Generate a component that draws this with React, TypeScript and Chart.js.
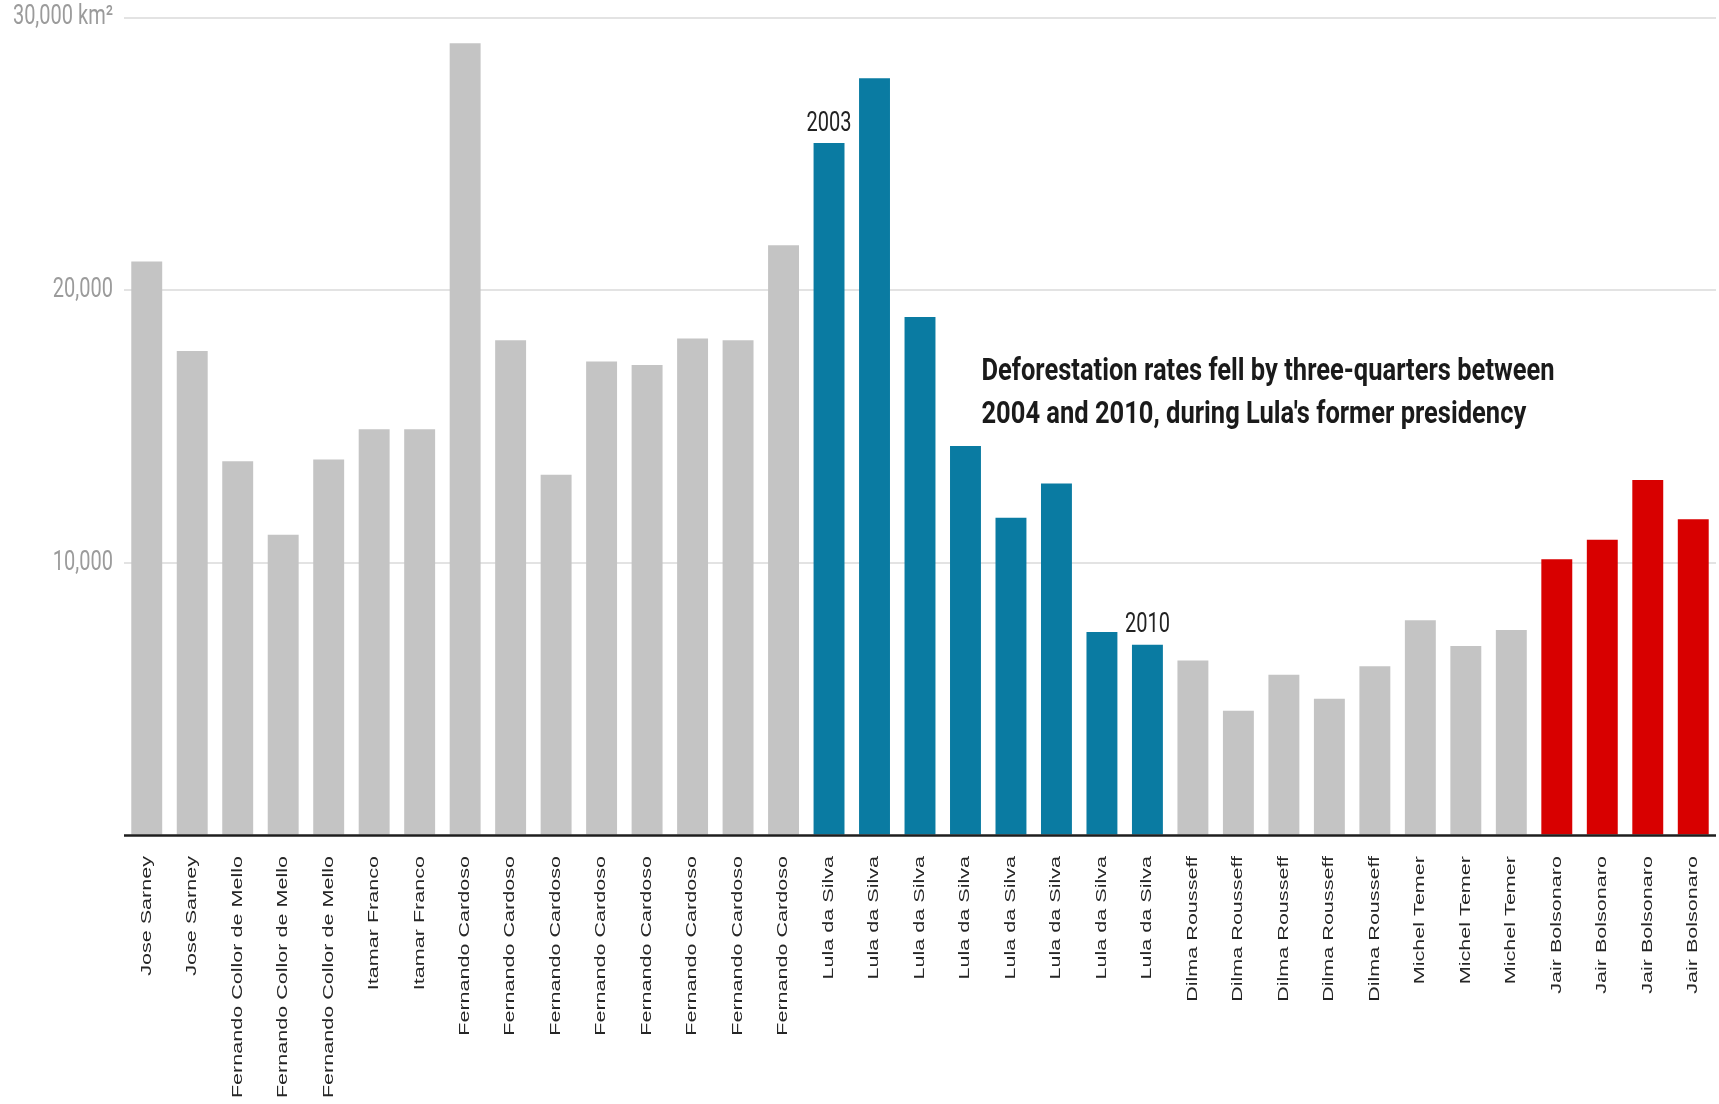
import React, { useEffect, useRef } from "react";
import { Chart, registerables } from "chart.js";

Chart.register(...registerables);

// ---------- data ----------
const presidents: string[] = [
  "Jose Sarney", "Jose Sarney",
  "Fernando Collor de Mello", "Fernando Collor de Mello", "Fernando Collor de Mello",
  "Itamar Franco", "Itamar Franco",
  "Fernando Cardoso", "Fernando Cardoso", "Fernando Cardoso", "Fernando Cardoso",
  "Fernando Cardoso", "Fernando Cardoso", "Fernando Cardoso", "Fernando Cardoso",
  "Lula da Silva", "Lula da Silva", "Lula da Silva", "Lula da Silva",
  "Lula da Silva", "Lula da Silva", "Lula da Silva", "Lula da Silva",
  "Dilma Rousseff", "Dilma Rousseff", "Dilma Rousseff", "Dilma Rousseff", "Dilma Rousseff",
  "Michel Temer", "Michel Temer", "Michel Temer",
  "Jair Bolsonaro", "Jair Bolsonaro", "Jair Bolsonaro", "Jair Bolsonaro",
];

const years: number[] = [
  1988, 1989, 1990, 1991, 1992, 1993, 1994, 1995, 1996, 1997, 1998, 1999,
  2000, 2001, 2002, 2003, 2004, 2005, 2006, 2007, 2008, 2009, 2010, 2011,
  2012, 2013, 2014, 2015, 2016, 2017, 2018, 2019, 2020, 2021, 2022,
];

const deforestationKm2: number[] = [
  21050, 17770, 13730, 11030, 13786, 14896, 14896, 29059, 18161, 13227, 17383, 17259,
  18226, 18165, 21651, 25396, 27772, 19014, 14286, 11651, 12911, 7464, 7000, 6418,
  4571, 5891, 5012, 6207, 7893, 6947, 7536, 10129, 10851, 13038, 11594,
];

const yTicks: number[] = [0, 10000, 20000, 30000];
const yTickLabels: string[] = ["", "10,000", "20,000", "30,000 km²"];

const highlightColors: Record<string, string> = {
  "Lula da Silva": "#0a7ba2",
  "Jair Bolsonaro": "#d80000",
};
const baseColor = "#c4c4c4";

const yearMarks: number[] = [2003, 2010];

const noteLines: string[] = [
  "Deforestation rates fell by three-quarters between",
  "2004 and 2010, during Lula's former presidency",
];
const noteAnchorIndex = 18;
const noteAnchorValue = 16700;

// ---------- plugin for overlay text & axis ----------
const overlayPlugin = {
  id: "overlay",
  afterDatasetsDraw(chart: any) {
    const { ctx, chartArea, scales } = chart;
    const xs = scales.x;
    const ys = scales.y;
    const y0 = ys.getPixelForValue(0);
    ctx.save();

    // baseline axis
    ctx.strokeStyle = "#1e1e1e";
    ctx.lineWidth = 2.5;
    ctx.beginPath();
    ctx.moveTo(chartArea.left, y0);
    ctx.lineTo(chartArea.right, y0);
    ctx.stroke();

    // value-axis labels
    ctx.fillStyle = "#9b9b9b";
    ctx.font = "20px Roboto, sans-serif";
    ctx.textAlign = "right";
    ctx.textBaseline = "middle";
    yTicks.forEach((v, k) => {
      const txt = yTickLabels[k];
      if (!txt) return;
      ctx.save();
      ctx.translate(chartArea.left - 11, ys.getPixelForValue(v));
      ctx.scale(1, 1.35);
      ctx.fillText(txt, 0, 0);
      ctx.restore();
    });

    // category labels (rotated, condensed)
    ctx.fillStyle = "#262626";
    ctx.font = "14px 'Liberation Sans', Arial, sans-serif";
    ctx.textAlign = "right";
    ctx.textBaseline = "middle";
    presidents.forEach((name, i) => {
      const px = xs.getPixelForValue(i);
      ctx.save();
      ctx.translate(px, y0 + 20.5);
      ctx.rotate(-Math.PI / 2);
      ctx.scale(1.54, 1);
      ctx.fillText(name, 0, 0);
      ctx.restore();
    });

    // year labels above bars
    ctx.fillStyle = "#222222";
    ctx.font = "20px Roboto, sans-serif";
    ctx.textAlign = "center";
    ctx.textBaseline = "alphabetic";
    yearMarks.forEach((yr) => {
      const i = years.indexOf(yr);
      if (i < 0) return;
      const px = xs.getPixelForValue(i);
      const py = ys.getPixelForValue(deforestationKm2[i]) - 12.5;
      ctx.save();
      ctx.translate(px, py);
      ctx.scale(1, 1.4);
      ctx.fillText(String(yr), 0, 0);
      ctx.restore();
    });

    // note
    ctx.fillStyle = "#1a1a1a";
    ctx.font = "bold 25.5px Roboto, sans-serif";
    ctx.textAlign = "left";
    const nx = xs.getPixelForValue(noteAnchorIndex) + 16;
    const ny = ys.getPixelForValue(noteAnchorValue);
    noteLines.forEach((line, k) => {
      ctx.save();
      ctx.translate(nx, ny + k * 43);
      ctx.scale(1, 1.25);
      ctx.fillText(line, 0, 0);
      ctx.restore();
    });

    ctx.restore();
  },
};

export default function App() {
  const canvasRef = useRef<HTMLCanvasElement | null>(null);

  useEffect(() => {
    document.body.style.margin = "0";
    const canvas = canvasRef.current;
    if (!canvas) return;
    const chart = new Chart(canvas, {
      type: "bar",
      data: {
        labels: presidents,
        datasets: [
          {
            data: deforestationKm2,
            backgroundColor: presidents.map((p) => highlightColors[p] || baseColor),
            borderWidth: 0,
            barPercentage: 0.68,
            categoryPercentage: 1,
          },
        ],
      },
      options: {
        animation: false,
        responsive: true,
        maintainAspectRatio: false,
        layout: { padding: { top: 17.5, right: 3, bottom: 268.5, left: 0 } },
        plugins: {
          legend: { display: false },
          tooltip: { enabled: false },
        },
        scales: {
          x: {
            grid: { display: false, drawTicks: false },
            border: { display: false },
            ticks: { display: false },
          },
          y: {
            min: 0,
            max: 30000,
            afterBuildTicks: (s: any) => {
              s.ticks = yTicks.map((v) => ({ value: v }));
            },
            afterFit: (s: any) => {
              s.width = 124;
            },
            grid: {
              drawTicks: false,
              lineWidth: 2,
              color: (c: any) =>
                c.tick && c.tick.value === 0 ? "rgba(0,0,0,0)" : "#e3e3e3",
            },
            border: { display: false },
            ticks: { display: false },
          },
        },
      },
      plugins: [overlayPlugin],
    });
    return () => chart.destroy();
  }, []);

  return (
    <div
      style={{
        position: "fixed",
        left: 0,
        top: 0,
        width: 1719,
        height: 1104,
        background: "#ffffff",
      }}
    >
      <canvas ref={canvasRef} />
    </div>
  );
}
